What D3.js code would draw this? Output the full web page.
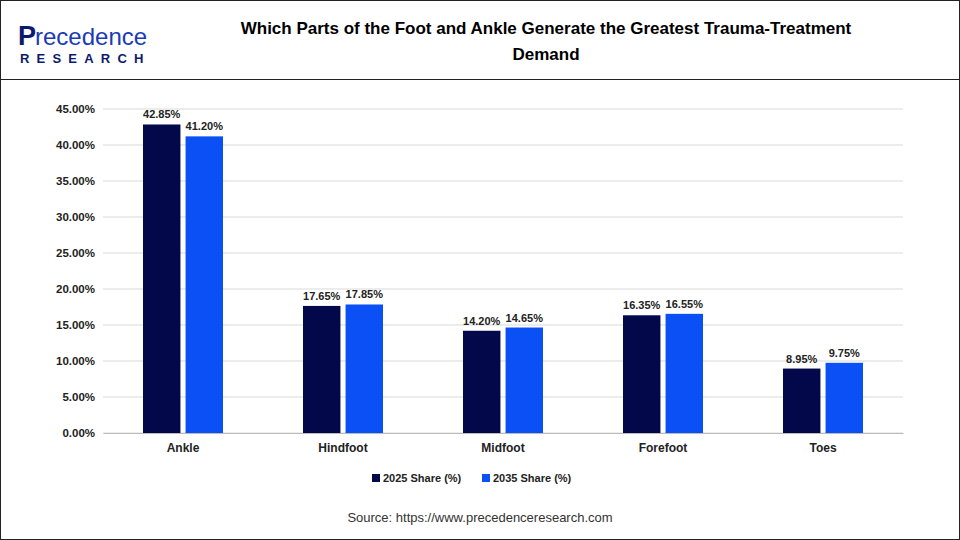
<!DOCTYPE html>
<html><head><meta charset="utf-8">
<script src="https://cdn.jsdelivr.net/npm/d3@7"></script>
<style>body{margin:0;background:#fff}svg{display:block;font-family:Arial,"Liberation Sans",sans-serif}</style>
</head><body><svg id="c" width="960" height="540"></svg>
<script>
const categories=["Ankle","Hindfoot","Midfoot","Forefoot","Toes"];
const series2025=[42.85,17.65,14.20,16.35,8.95];
const series2035=[41.20,17.85,14.65,16.55,9.75];
const seriesNames=["2025 Share (%)","2035 Share (%)"];
const yTicks=[0,5,10,15,20,25,30,35,40,45];
const colors=["#02084a","#0a50f5"];
const svg=d3.select("#c");
svg.append("rect").attr("x",0.5).attr("y",0.5).attr("width",959).attr("height",539).attr("fill","none").attr("stroke","#222");
svg.append("line").attr("x1",0).attr("x2",960).attr("y1",79.5).attr("y2",79.5).attr("stroke","#222");
// logo
const lg=svg.append("g");
lg.append("text").attr("x",18).attr("y",45).attr("font-size",27).attr("font-weight","bold").attr("fill","#0b1a6e").text("P");
lg.append("text").attr("x",35).attr("y",45).attr("font-size",24).attr("fill","#1a3bb5").text("recedence");
lg.append("text").attr("x",20).attr("y",63).attr("font-size",13).attr("font-weight","bold").attr("fill","#0b1a6e").attr("letter-spacing",7.2).text("RESEARCH");
svg.append("text").attr("x",546).attr("y",34).attr("text-anchor","middle").attr("font-size",17).attr("font-weight","bold").text("Which Parts of the Foot and Ankle Generate the Greatest Trauma-Treatment");
svg.append("text").attr("x",546).attr("y",60).attr("text-anchor","middle").attr("font-size",17).attr("font-weight","bold").text("Demand");
const x0=d3.scaleBand().domain(categories).range([103,903]);
const x1=d3.scaleBand().domain([0,1]).range([x0.bandwidth()/2-40,x0.bandwidth()/2+40]).paddingInner(0.12);
const y=d3.scaleLinear().domain([0,45]).range([433,109]);
const g=svg.append("g");
g.selectAll(".gl").data(yTicks).join("line").attr("x1",103).attr("x2",903).attr("y1",d=>y(d)).attr("y2",d=>y(d)).attr("stroke","#d9d9d9");
const ya=svg.append("g").attr("transform","translate(103,0)").call(d3.axisLeft(y).tickValues(yTicks).tickSize(0).tickPadding(8).tickFormat(d=>d.toFixed(2)+"%"));
ya.select(".domain").remove();
ya.selectAll("text").attr("font-size",11.5).attr("font-weight","bold").attr("fill","#222").style("font-family","Arial,'Liberation Sans',sans-serif");
const xa=svg.append("g").attr("transform","translate(0,433)").call(d3.axisBottom(x0).tickSize(0).tickPadding(10));
xa.select(".domain").attr("stroke","#bbb");
xa.selectAll("text").attr("font-size",12).attr("font-weight","bold").attr("fill","#222").style("font-family","Arial,'Liberation Sans',sans-serif");
[series2025,series2035].forEach((s,i)=>{
  const gg=svg.append("g");
  gg.selectAll("rect").data(s).join("rect").attr("x",(d,j)=>x0(categories[j])+x1(i)).attr("width",x1.bandwidth()).attr("y",d=>y(d)).attr("height",d=>433-y(d)).attr("fill",colors[i]);
  gg.selectAll("text").data(s).join("text").attr("x",(d,j)=>x0(categories[j])+x1(i)+x1.bandwidth()/2).attr("y",d=>y(d)-6).attr("text-anchor","middle").attr("font-size",11).attr("font-weight","bold").attr("fill","#222").text(d=>d.toFixed(2)+"%");
});
const leg=svg.append("g");
[[372,0],[482,1]].forEach(([lx,i])=>{
  leg.append("rect").attr("x",lx).attr("y",474).attr("width",8).attr("height",8).attr("fill",colors[i]);
  leg.append("text").attr("x",lx+11).attr("y",482).attr("font-size",11).attr("font-weight","bold").attr("fill","#222").text(seriesNames[i]);
});
svg.append("text").attr("x",480).attr("y",522).attr("text-anchor","middle").attr("font-size",13).attr("fill","#333").text("Source: https://www.precedenceresearch.com");
</script></body></html>
